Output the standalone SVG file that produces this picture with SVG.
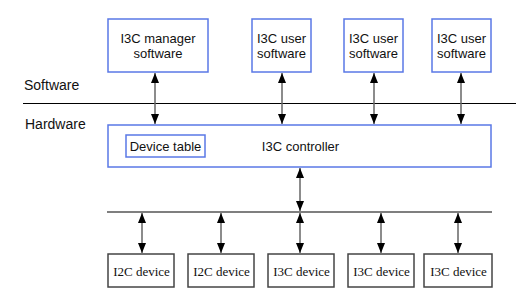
<svg xmlns="http://www.w3.org/2000/svg" width="529" height="304" viewBox="0 0 529 304">
<style>
.sw{fill:#fff;stroke:#5a78e6;stroke-width:1.5}
.dev{fill:#fff;stroke:#444;stroke-width:1.5}
.t{font-family:"Liberation Sans",Arial,sans-serif;font-size:13px;fill:#111;text-anchor:middle;dominant-baseline:central}
.lbl{font-family:"Liberation Sans",Arial,sans-serif;font-size:14px;fill:#111;dominant-baseline:central}
.s{font-family:"Liberation Serif","Times New Roman",serif;font-size:13px;fill:#111;text-anchor:middle;dominant-baseline:central}
.a{stroke:#666;stroke-width:1.5;fill:none;marker-start:url(#h);marker-end:url(#h)}
</style>
<defs>
<marker id="h" viewBox="0 0 10 8" refX="10" refY="4" markerWidth="10" markerHeight="8" markerUnits="userSpaceOnUse" orient="auto-start-reverse">
<path d="M0,0L10,4L0,8Z" fill="#000"/>
</marker>
</defs>
<rect width="529" height="304" fill="#fff"/>
<text class="lbl" x="24" y="85">Software</text>
<text class="lbl" x="25" y="124">Hardware</text>
<line x1="23" y1="103.5" x2="516" y2="103.5" stroke="#000" stroke-width="1.2"/>
<g id="manager"><rect class="sw" x="108" y="19" width="100" height="53"/><text class="t" x="158" y="38">I3C manager</text><text class="t" x="158" y="53">software</text></g>
<g id="user1"><rect class="sw" x="252" y="19" width="59" height="53"/><text class="t" x="281.5" y="38">I3C user</text><text class="t" x="281.5" y="53">software</text></g>
<g id="user2"><rect class="sw" x="344" y="19" width="59" height="53"/><text class="t" x="373.5" y="38">I3C user</text><text class="t" x="373.5" y="53">software</text></g>
<g id="user3"><rect class="sw" x="432" y="19" width="59" height="53"/><text class="t" x="461.5" y="38">I3C user</text><text class="t" x="461.5" y="53">software</text></g>
<g id="controller"><rect class="sw" x="108" y="125" width="383" height="42"/><text class="t" x="300.5" y="146">I3C controller</text></g>
<g id="devicetable"><rect class="sw" x="126" y="135" width="79" height="22"/><text class="t" x="165.5" y="146">Device table</text></g>
<g id="bus"><line x1="107" y1="212" x2="492" y2="212" stroke="#555" stroke-width="1.5"/></g>
<g id="d1"><rect class="dev" x="108" y="254" width="66" height="33"/><text class="s" x="141.5" y="271">I2C device</text></g>
<g id="d2"><rect class="dev" x="188" y="254" width="66" height="33"/><text class="s" x="221.5" y="271">I2C device</text></g>
<g id="d3"><rect class="dev" x="268" y="254" width="66" height="33"/><text class="s" x="301.5" y="271">I3C device</text></g>
<g id="d4"><rect class="dev" x="348" y="254" width="66" height="33"/><text class="s" x="381.5" y="271">I3C device</text></g>
<g id="d5"><rect class="dev" x="424" y="254" width="68" height="33"/><text class="s" x="458.5" y="271">I3C device</text></g>
<g id="connectors">
<line class="a" x1="155" y1="73" x2="155" y2="124"/>
<line class="a" x1="282" y1="73" x2="282" y2="124"/>
<line class="a" x1="374" y1="73" x2="374" y2="124"/>
<line class="a" x1="461" y1="73" x2="461" y2="124"/>
<line class="a" x1="300" y1="168" x2="300" y2="211"/>
<line class="a" x1="142" y1="213" x2="142" y2="253"/>
<line class="a" x1="221" y1="213" x2="221" y2="253"/>
<line class="a" x1="300" y1="213" x2="300" y2="253"/>
<line class="a" x1="381" y1="213" x2="381" y2="253"/>
<line class="a" x1="458" y1="213" x2="458" y2="253"/>
</g>
</svg>
